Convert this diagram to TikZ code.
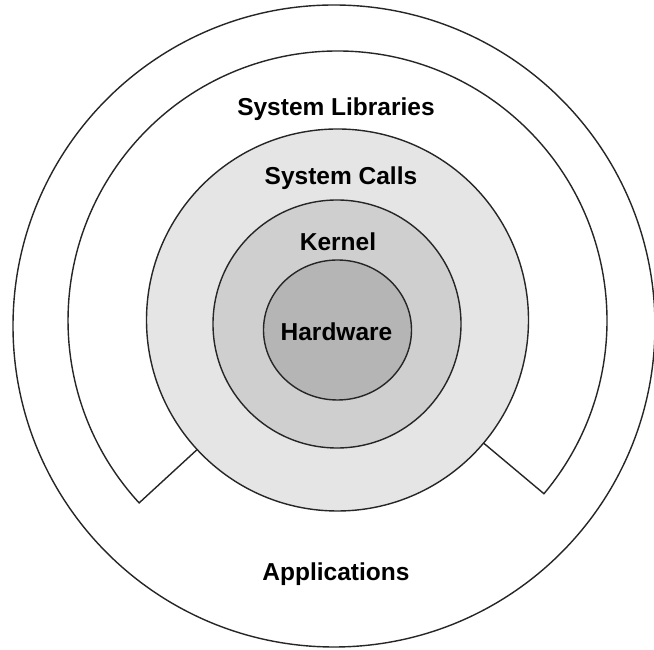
\documentclass[tikz,border=0pt]{standalone}
\usepackage{fontspec}
\setmainfont{Liberation Sans}
\usetikzlibrary{calc}
\begin{document}
\begin{tikzpicture}[x=1pt,y=1pt,
  ring/.style={draw=black!85,line width=1.4pt},
  lbl/.style={font=\fontsize{24.5}{28}\selectfont\bfseries,anchor=base,inner sep=0pt}]
\useasboundingbox (0,0) rectangle (654,650);
\fill[white] (0,0) rectangle (654,650);
% Applications (outer circle)
\coordinate (cA) at (334,324);
\draw[ring,fill=white] (cA) circle (321);
% System Libraries (open ring)
\coordinate (cL) at (337.5,329.5);
\draw[ring,fill=white,line join=miter]
  ($(cL)+(-40:191)$) -- ($(cL)+(-40:269.5)$) arc[start angle=-40,end angle=222.6,radius=269.5]
  -- ($(cL)+(222.6:191)$);
% System Calls
\coordinate (cS) at (337.5,330);
\draw[ring,fill=black!10] (cS) circle (191);
% Kernel
\coordinate (cK) at (337,326);
\draw[ring,fill=black!19] (cK) circle (124);
% Hardware
\coordinate (cH) at (337.5,320);
\draw[ring,fill=black!29] (cH) ellipse[x radius=74,y radius=70];
% labels
\node[lbl] (tL) at (336,534) {System Libraries};
\node[lbl] (tS) at (341,465) {System Calls};
\node[lbl] (tK) at (338,399) {Kernel};
\node[lbl] (tH) at (336.5,309) {Hardware};
\node[lbl] (tA) at (336,69) {Applications};
\end{tikzpicture}
\end{document}
